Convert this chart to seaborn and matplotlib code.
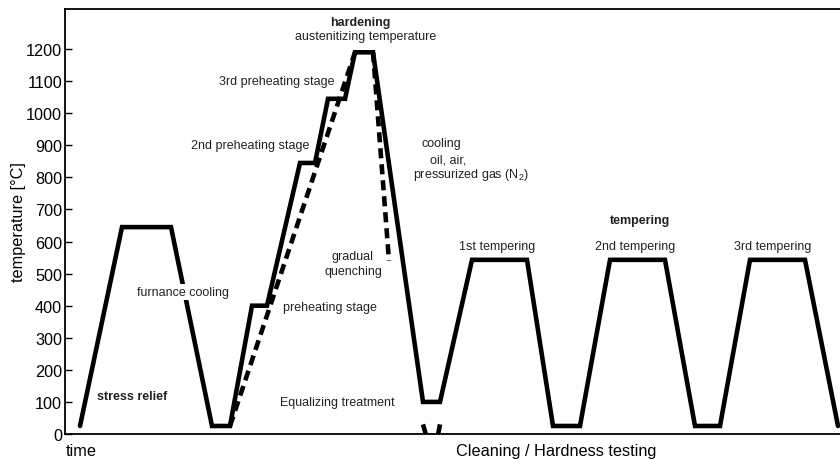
import matplotlib
matplotlib.use("Agg")
import matplotlib.pyplot as plt
import seaborn as sns

# heat treatment cycle, time in arbitrary units, temperature in degC
main_time = [15, 57, 106, 147, 165, 187, 202, 235, 250, 263, 280, 290, 308,
             358, 375, 407, 462, 488, 515, 545, 600, 630, 655, 685, 740, 773]
main_temp = [25, 645, 645, 25, 25, 400, 400, 845, 845, 1045, 1045, 1190, 1190,
             100, 100, 543, 543, 25, 25, 543, 543, 25, 25, 543, 543, 25]

# dashed: continuous heating / gradual quenching / direct quenching
heat_time = [165, 290]
heat_temp = [25, 1190]
quench_time = [308, 324]
quench_temp = [1190, 540]
drop_left_time = [358, 361]
drop_left_temp = [30, -3]
drop_right_time = [375, 373]
drop_right_temp = [30, -3]

y_ticks = list(range(0, 1201, 100))

sns.set_style("white")
plt.rcParams['font.family'] = ['Liberation Sans', 'DejaVu Sans']
plt.rcParams['text.color'] = 'black'

fig = plt.figure(figsize=(8.4, 4.6), dpi=100)
ax = fig.add_axes([65 / 840, 25 / 460, 775 / 840, 425 / 460])

lw = 3.3
sns.lineplot(x=main_time, y=main_temp, sort=False, estimator=None,
             color='black', lw=lw, ax=ax)
ax.lines[-1].set_solid_joinstyle('miter')
for tx, ty in [(heat_time, heat_temp), (quench_time, quench_temp),
               (drop_left_time, drop_left_temp), (drop_right_time, drop_right_temp)]:
    sns.lineplot(x=tx, y=ty, sort=False, estimator=None, color='black',
                 lw=lw, ax=ax)
    ax.lines[-1].set_dashes((2.2, 1.3))
    ax.lines[-1].set_dash_capstyle('butt')

ax.set_xlim(0, 775)
ax.set_ylim(0, 1325)
ax.set_xticks([])
ax.set_yticks(y_ticks)
ax.tick_params(axis='y', direction='in', length=5, width=1, pad=2,
               labelsize=11.7, colors='black', left=True)
ax.set_ylabel('temperature [°C]', fontsize=11.7, labelpad=0, color='black')
ax.set_xlabel('')
for side in ['left', 'top', 'bottom']:
    ax.spines[side].set_color('black')
    ax.spines[side].set_linewidth(1.3)
ax.spines['right'].set_visible(False)

fs = 9
notes = [
    (67, 118, 'stress relief', 'bold', 'center'),
    (118, 443, 'furnance cooling', 'normal', 'center'),
    (212, 1100, '3rd preheating stage', 'normal', 'center'),
    (185, 901, '2nd preheating stage', 'normal', 'center'),
    (295, 1284, 'hardening', 'bold', 'center'),
    (301, 1241, 'austenitizing temperature', 'normal', 'center'),
    (356, 907, 'cooling', 'normal', 'left'),
    (365, 857, 'oil, air,', 'normal', 'left'),
    (348, 810, 'pressurized gas (N$_\\mathregular{2}$)', 'normal', 'left'),
    (287, 555, 'gradual', 'normal', 'center'),
    (288, 508, 'quenching', 'normal', 'center'),
    (265, 396, 'preheating stage', 'normal', 'center'),
    (272, 100, 'Equalizing treatment', 'normal', 'center'),
    (575, 667, 'tempering', 'bold', 'center'),
    (432, 586, '1st tempering', 'normal', 'center'),
    (570, 586, '2nd tempering', 'normal', 'center'),
    (708, 586, '3rd tempering', 'normal', 'center'),
]
for x, y, s, w, ha in notes:
    t = ax.text(x, y, s, fontsize=fs, fontweight=w, ha=ha, va='center',
                color='#222222', zorder=5)
    if s == 'furnance cooling':
        # label sits on top of the cooling line, as in the original
        t.set_bbox(dict(facecolor='white', edgecolor='none', pad=1.5))

ax.text(1, -53, 'time', fontsize=11.7, ha='left', va='center', clip_on=False)
ax.text(491, -50, 'Cleaning / Hardness testing', fontsize=11.7, ha='center',
        va='center', clip_on=False)

fig.savefig('out.png', dpi=100)
